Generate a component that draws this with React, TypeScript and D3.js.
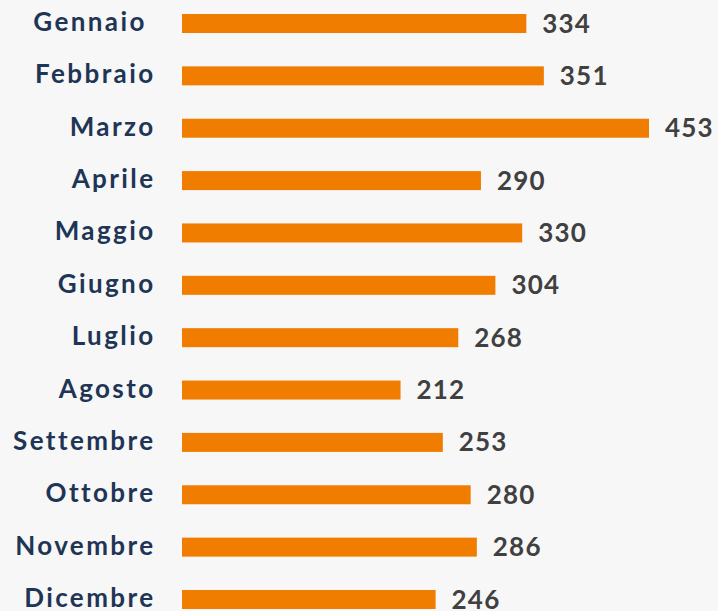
import React from "react";
import * as d3 from "d3";

const months = ["Gennaio ", "Febbraio", "Marzo", "Aprile", "Maggio", "Giugno", "Luglio", "Agosto", "Settembre", "Ottobre", "Novembre", "Dicembre"];
const values = [334, 351, 453, 290, 330, 304, 268, 212, 253, 280, 286, 246];

const W = 718;
const H = 611;

export default function App() {
  const x = d3.scaleLinear().domain([0, 453]).range([182, 649]);
  const y = d3.scalePoint<string>().domain(months).range([23.5, 599.5]);
  const barH = 19;
  return (
    <div style={{ position: "absolute", left: 0, top: 0 }}>
      <svg width={W} height={H} style={{ display: "block", background: "#f7f7f7" }}>
        {months.map((m, i) => {
          const cy = y(m) as number;
          return (
            <g key={m}>
              <text
                x={155.5}
                y={cy + 7.5}
                textAnchor="end"
                fontFamily="Lato, 'Open Sans', sans-serif"
                fontWeight="bold"
                fontSize={26}
                letterSpacing={2.4}
                fill="#1e3556"
                style={{ whiteSpace: "pre" }}
              >
                {m}
              </text>
              <rect x={x(0)} y={cy - barH / 2} width={x(values[i]) - x(0)} height={barH} fill="#f07d00" />
              <text
                x={x(values[i]) + 16}
                y={cy + 9}
                fontFamily="Lato, 'Open Sans', sans-serif"
                fontWeight="bold"
                fontSize={26}
                letterSpacing={1.2}
                fill="#404040"
              >
                {values[i]}
              </text>
            </g>
          );
        })}
      </svg>
    </div>
  );
}
